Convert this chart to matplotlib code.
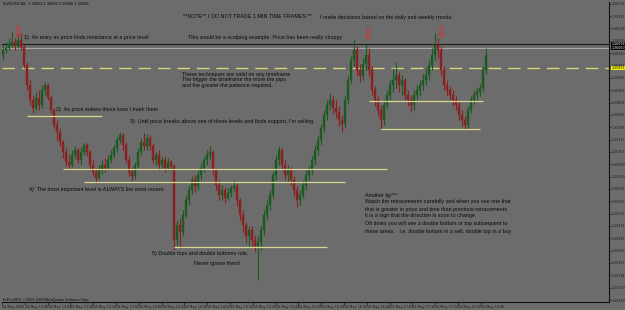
import matplotlib
matplotlib.use("Agg")
import matplotlib.pyplot as plt
import numpy as np

# ---------------- data (prices in points: 36030 -> 1.36030) ----------------
first_open = 36014
close_pts = [36030,36036,36049,36055,36043,36062,36039,35983,35919,35872,
             35847,35878,35856,35904,35919,35878,35840,35793,35771,35739,
             35708,35676,35667,35698,35714,35682,35708,35730,35708,35667,
             35644,35626,35651,35667,35657,35682,35698,35720,35746,35761,
             35730,35682,35644,35632,35667,35708,35739,35727,35752,35727,
             35682,35698,35667,35682,35657,35676,35663,35430,35477,35455,
             35509,35556,35588,35619,35600,35635,35657,35682,35698,35708,
             35651,35603,35572,35588,35562,35578,35594,35600,35556,35509,
             35477,35442,35461,35430,35411,35423,35461,35509,35540,35572,
             35635,35682,35714,35667,35635,35651,35619,35588,35556,35572,
             35603,35635,35651,35682,35714,35746,35784,35825,35856,35872,
             35847,35834,35809,35796,35872,35935,35998,36030,35967,35948,
             35986,36014,35967,35904,35872,35840,35809,35856,35888,35919,
             35935,35951,35919,35935,35888,35872,35856,35888,35904,35919,
             35935,35951,35983,36014,36046,36030,35967,35919,35904,35888,
             35872,35856,35825,35809,35793,35840,35872,35888,35897,35910,
             35967,36014]
high_pts = [36046,36055,36068,36087,36068,36077,36084,36046,35992,35935,
            35888,35897,35904,35919,35929,35926,35888,35847,35809,35784,
            35746,35720,35698,35714,35727,35720,35723,35736,35736,35714,
            35682,35657,35667,35682,35689,35698,35714,35730,35755,35771,
            35768,35739,35695,35657,35676,35720,35752,35768,35765,35761,
            35736,35708,35714,35692,35695,35689,35682,35670,35493,35499,
            35524,35572,35600,35632,35635,35651,35673,35695,35714,35727,
            35714,35657,35619,35603,35597,35594,35603,35619,35610,35562,
            35524,35486,35474,35474,35445,35442,35474,35524,35556,35588,
            35644,35698,35727,35720,35682,35667,35660,35632,35600,35588,
            35619,35651,35663,35695,35730,35761,35796,35840,35872,35894,
            35885,35872,35853,35825,35885,35948,36011,36062,36043,35986,
            36005,36046,36036,35979,35916,35885,35856,35872,35904,35935,
            35973,35992,35960,35951,35942,35904,35888,35904,35919,35935,
            35954,35973,35998,36036,36084,36068,36043,35979,35935,35916,
            35904,35885,35872,35840,35821,35853,35885,35904,35910,35923,
            35979,36036]
low_pts = [35998,36021,36030,36039,36030,36036,36030,35973,35904,35856,
           35831,35840,35840,35847,35888,35872,35831,35784,35746,35727,
           35689,35663,35654,35660,35689,35673,35667,35698,35695,35651,
           35632,35610,35619,35638,35644,35651,35673,35689,35708,35736,
           35714,35673,35632,35616,35622,35657,35698,35714,35714,35714,
           35673,35667,35651,35657,35644,35651,35651,35398,35414,35404,
           35442,35499,35540,35575,35581,35588,35619,35644,35667,35682,
           35635,35588,35556,35556,35547,35556,35565,35581,35537,35493,
           35455,35420,35411,35411,35392,35303,35398,35445,35493,35524,
           35562,35619,35667,35651,35619,35613,35603,35569,35534,35540,
           35562,35588,35619,35635,35667,35698,35730,35771,35809,35840,
           35828,35815,35790,35771,35784,35859,35923,35979,35948,35929,
           35935,35967,35948,35888,35853,35821,35784,35793,35847,35872,
           35897,35910,35897,35888,35872,35853,35834,35840,35872,35885,
           35904,35919,35935,35967,35998,36005,35951,35904,35885,35872,
           35853,35840,35809,35790,35780,35784,35831,35859,35872,35885,
           35897,35954]

# horizontal support / resistance levels: (price pts, first candle, last candle)
level_prices = [35821, 35654, 35613, 35407, 35869, 35780]
level_start = [8, 20, 27, 57, 122, 126]
level_end = [33, 128, 114, 108, 160, 159]
dashed_level = 35973
black_level = 36048
grey_level = 36037

arrow_idx = [5, 121.7, 146]
arrow_pts = [36086, 36079, 36086]

ytick_labels = ["%.5f" % (1.35240 + 0.00039 * k) for k in range(25)]
xtick_labels = ["14 May 2009", "14 May 12:46", "14 May 13:02", "14 May 13:18",
                "14 May 13:34", "14 May 13:50", "14 May 14:06", "14 May 14:22",
                "14 May 14:38", "14 May 14:54", "14 May 15:10", "14 May 15:26",
                "14 May 15:42", "14 May 15:58", "14 May 16:14", "14 May 16:30",
                "14 May 16:46", "14 May 17:02", "14 May 17:18", "14 May 17:34",
                "14 May 17:50", "14 May 18:06"]

# ---------------- figure ----------------
BG = "#6c6c6c"
W, H = 625, 310
fig = plt.figure(figsize=(W / 100, H / 100), dpi=100)
fig.patch.set_facecolor(BG)
ax = fig.add_axes([2 / W, 8 / H, 607 / W, 300 / H])
ax.set_facecolor(BG)

to_price = lambda p: 1.0 + np.asarray(p) / 1e5
c = to_price(close_pts)
o = to_price([first_open] + close_pts[:-1])
h = to_price(high_pts)
l = to_price(low_pts)
x = np.arange(len(c))

bull = c >= o
up_col = "#1d5a22"
dn_col = "#8a2020"
cols = np.where(bull, up_col, dn_col)
ax.vlines(x, l, h, colors=cols, linewidth=0.8, zorder=3)
body_lo = np.minimum(o, c)
body_h = np.maximum(np.abs(c - o), 0.00002)
ax.bar(x, body_h, bottom=body_lo, width=0.65, color=cols, edgecolor=cols,
       linewidth=0.3, zorder=4)

# levels
lvl_col = "#d6d690"
for p, s, e in zip(level_prices, level_start, level_end):
    ax.hlines(to_price(p), s, e, colors=lvl_col, linewidth=0.9, zorder=5)
ax.axhline(to_price(dashed_level), color="#d8d47a", linewidth=1.0,
           dashes=(9, 5), zorder=2)
ax.axhline(to_price(black_level), color="#1a1a1a", linewidth=0.8, zorder=2)
ax.axhline(to_price(grey_level), color="#a8a8a8", linewidth=0.8, zorder=2)

# arrows
for xi, p in zip(arrow_idx, arrow_pts):
    ax.text(xi, to_price(p), "\u21e9", color="#e02828", fontsize=11,
            ha="center", va="center", family="DejaVu Sans", zorder=6)

# axes limits
ax.set_xlim(-0.33, 202.0)
ax.set_ylim(1.352337, 1.361817)

# axis styling
for s in ("left", "top"):
    ax.spines[s].set_visible(False)
for s in ("right", "bottom"):
    ax.spines[s].set_color("#111111")
    ax.spines[s].set_linewidth(0.8)
ax.yaxis.tick_right()
yt = [float(v) for v in ytick_labels]
ax.set_yticks(yt)
ax.set_yticklabels(ytick_labels)
ax.tick_params(axis="y", labelsize=2.3, colors="#1a1a1a", length=1.5, width=0.5, pad=0.6)
xt = [-0.33 + 7.6 * k for k in range(len(xtick_labels))]
ax.set_xticks(xt)
ax.set_xticklabels(xtick_labels, ha="left")
ax.tick_params(axis="x", labelsize=2.4, colors="#1a1a1a", length=2, width=0.5, pad=0.5)

# price boxes on the axis
def box(p, txt, fc, tc):
    ax.text(1.004, to_price(p), txt, transform=ax.get_yaxis_transform(),
            fontsize=2.3, color=tc, va="center", ha="left",
            bbox=dict(boxstyle="square,pad=0.12", fc=fc, ec="none"), zorder=7,
            clip_on=False)
box(black_level, "1.36058", "#000000", "#ffffff")
box(grey_level, "1.36050", "#000000", "#ffffff")
box(dashed_level, "1.35973", "#f0f000", "#000000")

# annotations (figure pixel coordinates, top-left origin)
FONT = "Liberation Sans"
def note(px, py, s, size=3.9):
    fig.text(px / W, 1 - py / H, s, fontsize=size, family=FONT,
             color="#0a0a0a", ha="left", va="center")

note(3, 4, "EURUSD,M1  1.36052 1.36060 1.36046 1.36058", 2.8)
note(183, 17, "**NOTE** I DO NOT TRADE 1 MIN TIME FRAMES **")
note(320, 17, "I make decisions based on the daily and weekly trends.")
note(188, 37, "This would be a scalping example. Price has been really choppy")
note(24, 38, "1)  An entry as price finds resistance at a price level")
note(182, 74, "These techniques are valid on any timeframe")
note(182, 80, "The bigger the timeframe the more the pips")
note(182, 86, "and the greater the patience required.")
note(56, 110, "2)  As price makes these lows I mark them")
note(130, 122, "3)  Until price breaks above one of these levels and finds support, I'm selling.")
note(29, 189, "4)  The most important level is ALWAYS the most recent.")
note(152, 254, "5) Double tops and double bottoms rule.")
note(194, 263, "Never ignore them!")
note(365, 195, "Another tip***")
note(365, 202, "Watch the retracements carefully and when you see one that")
note(365, 209, "that is greater in price and time than previous retracements")
note(365, 216, "it is a sign that the direction is soon to change.")
note(365, 224, "Oft times you will see a double bottom or top subsequent to")
note(365, 231, "these areas.   I.e. double bottom in a sell, double top in a buy")
note(3, 300, "FxPro MT4, \u00a9 2001-2009 MetaQuotes Software Corp.", 2.6)

fig.savefig("out.png", dpi=100, facecolor=BG)
